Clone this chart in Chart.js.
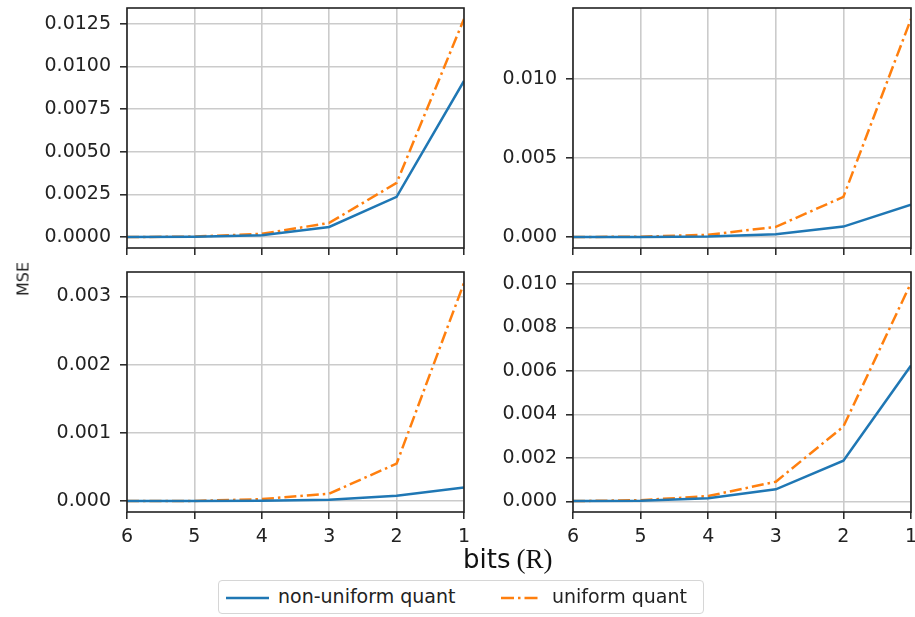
<!DOCTYPE html>
<html>
<head>
<meta charset="utf-8">
<title>MSE vs bits</title>
<script src="https://cdn.jsdelivr.net/npm/chart.js@4.4.1/dist/chart.umd.min.js"></script>
<style>
  html, body { margin: 0; padding: 0; background: #fff; }
  #wrap { position: relative; width: 915px; height: 617px; background: #fff; overflow: hidden; }
  canvas { position: absolute; }
  .ylab { position: absolute; left: 23px; top: 279px; transform: translate(-50%, -50%) rotate(-90deg);
          font: 16px "DejaVu Sans", sans-serif; color: #222; white-space: nowrap; }
  .xlab { position: absolute; left: 463px; top: 544px; white-space: nowrap; color: #111; }
  .xlab .w { font: 26px "DejaVu Sans", sans-serif; }
  .xlab .r { font: 27px "Liberation Serif", serif; margin-left: 6px; }
  .legend { position: absolute; left: 218px; top: 580px; width: 486px; height: 34px;
            border: 1px solid #d6d6d6; border-radius: 4px; box-sizing: border-box;
            font: 19px "DejaVu Sans", sans-serif; color: #222; }
  .legend svg { position: absolute; top: 0; left: 0; }
  .legend span { position: absolute; top: 4px; white-space: nowrap; }
</style>
</head>
<body>
<div id="wrap">
  <canvas id="pA" width="470" height="260" style="left:0;top:0"></canvas>
  <canvas id="pB" width="455" height="260" style="left:460px;top:0"></canvas>
  <canvas id="pC" width="470" height="300" style="left:0;top:262px"></canvas>
  <canvas id="pD" width="455" height="300" style="left:460px;top:262px"></canvas>
  <div class="ylab">MSE</div>
  <div class="xlab"><span class="w">bits</span><span class="r">(R)</span></div>
  <div class="legend">
    <svg width="486" height="34">
      <line x1="7" y1="17" x2="50" y2="17" stroke="#1f77b4" stroke-width="2.6"/>
      <line x1="282" y1="17" x2="320" y2="17" stroke="#ff7f0e" stroke-width="2.6" stroke-dasharray="13,4,2.5,4"/>
    </svg>
    <span style="left:59px">non-uniform quant</span>
    <span style="left:333px">uniform quant</span>
  </div>
</div>
<script>
// bit budgets on the x axis (drawn from 6 down to 1)
const bits = [6, 5, 4, 3, 2, 1];

// panel A (top left)
const nonUniformA = [0.00001, 0.00003, 0.00012, 0.00060, 0.00237, 0.00915];
const uniformA    = [0.00001, 0.00004, 0.00020, 0.00084, 0.00318, 0.01278];
const ticksA      = [0, 0.0025, 0.005, 0.0075, 0.01, 0.0125];

// panel B (top right)
const nonUniformB = [0.000005, 0.00001, 0.00004, 0.00019, 0.00067, 0.00205];
const uniformB    = [0.00001, 0.00003, 0.00015, 0.00065, 0.00255, 0.01380];
const ticksB      = [0, 0.005, 0.01];

// panel C (bottom left)
const nonUniformC = [0.000001, 0.000002, 0.000005, 0.00002, 0.00008, 0.00020];
const uniformC    = [0.000001, 0.000003, 0.00003, 0.00011, 0.00055, 0.00320];
const ticksC      = [0, 0.001, 0.002, 0.003];

// panel D (bottom right)
const nonUniformD = [0.00001, 0.00003, 0.00014, 0.00055, 0.00187, 0.00625];
const uniformD    = [0.00001, 0.00005, 0.00024, 0.00090, 0.00344, 0.01005];
const ticksD      = [0, 0.002, 0.004, 0.006, 0.008, 0.010];

const BLUE = '#1f77b4';
const ORANGE = '#ff7f0e';
const GRID = '#cbcbcb';
const INK = '#222';

Chart.defaults.font.family = '"DejaVu Sans", sans-serif';
Chart.defaults.font.size = 19;
Chart.defaults.color = INK;

// black frame around each plotting area, drawn over the lines
const frame = {
  id: 'frame',
  afterDatasetsDraw(chart) {
    const a = chart.chartArea, c = chart.ctx;
    c.save();
    c.strokeStyle = INK;
    c.lineWidth = 1.6;
    c.strokeRect(a.left, a.top, a.right - a.left, a.bottom - a.top);
    c.restore();
  }
};

function pts(vals) { return bits.map((b, i) => ({ x: b, y: vals[i] })); }

function panel(id, nonU, uni, yTicks, decimals, showX, yWidth, pad) {
  const all = nonU.concat(uni);
  const lo = Math.min(...all), hi = Math.max(...all);
  const m = 0.05 * (hi - lo);
  new Chart(document.getElementById(id), {
    type: 'line',
    data: {
      datasets: [
        { label: 'non-uniform quant', data: pts(nonU), borderColor: BLUE, borderWidth: 2.5,
          pointRadius: 0, tension: 0, fill: false },
        { label: 'uniform quant', data: pts(uni), borderColor: ORANGE, borderWidth: 2.5,
          borderDash: [12, 4, 2.5, 4], pointRadius: 0, tension: 0, fill: false }
      ]
    },
    options: {
      responsive: false,
      animation: false,
      devicePixelRatio: 1,
      layout: { padding: pad },
      plugins: { legend: { display: false }, tooltip: { enabled: false } },
      scales: {
        x: {
          type: 'linear', min: 1, max: 6, reverse: true,
          afterBuildTicks: s => { s.ticks = bits.map(v => ({ value: v })); },
          afterFit: s => { s.height = showX ? 50 : 12; s.paddingLeft = 0; s.paddingRight = 0; },
          grid: { color: GRID, lineWidth: 1.6, drawTicks: true, tickLength: 7, tickColor: INK, tickWidth: 1.5 },
          border: { display: false },
          ticks: { display: showX, padding: 7, maxRotation: 0, callback: v => String(v) }
        },
        y: {
          type: 'linear', min: lo - m, max: hi + m,
          afterBuildTicks: s => { s.ticks = yTicks.map(v => ({ value: v })); },
          afterFit: s => { s.width = yWidth; s.paddingTop = 0; s.paddingBottom = 0; },
          grid: { color: GRID, lineWidth: 1.6, drawTicks: true, tickLength: 7, tickColor: INK, tickWidth: 1.5 },
          border: { display: false },
          ticks: { padding: 9, callback: v => Number(v).toFixed(decimals) }
        }
      }
    },
    plugins: [frame]
  });
}

panel('pA', nonUniformA, uniformA, ticksA, 4, false, 127, { top: 8, right: 6, left: 0, bottom: 0 });
panel('pB', nonUniformB, uniformB, ticksB, 3, false, 113, { top: 8, right: 4, left: 0, bottom: 0 });
panel('pC', nonUniformC, uniformC, ticksC, 3, true, 127, { top: 10, right: 6, left: 0, bottom: 0 });
panel('pD', nonUniformD, uniformD, ticksD, 3, true, 113, { top: 10, right: 4, left: 0, bottom: 0 });
</script>
</body>
</html>
